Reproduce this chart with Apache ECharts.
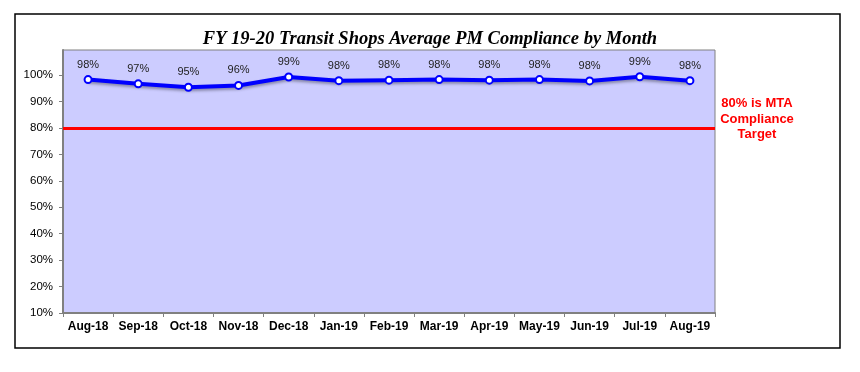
<!DOCTYPE html>
<html>
<head>
<meta charset="utf-8">
<script src="https://cdn.jsdelivr.net/npm/echarts@6/dist/echarts.min.js"></script>
<style>html,body{margin:0;padding:0;background:#fff;}#c{width:860px;height:372px;}</style>
</head>
<body>
<div id="c"></div>
<script>
const months = ['Aug-18','Sep-18','Oct-18','Nov-18','Dec-18','Jan-19','Feb-19','Mar-19','Apr-19','May-19','Jun-19','Jul-19','Aug-19'];
const compliance = [98.3, 96.7, 95.4, 96.1, 99.3, 97.9, 98.1, 98.3, 98.1, 98.3, 97.8, 99.4, 97.9];
const dataLabels = ['98%','97%','95%','96%','99%','98%','98%','98%','98%','98%','98%','99%','98%'];
const yTicks = [10, 20, 30, 40, 50, 60, 70, 80, 90, 100];
const targetValue = 80;
const targetNote = '80% is MTA\nCompliance\nTarget';
const chartTitle = 'FY 19-20 Transit Shops Average PM Compliance by Month';

const chart = echarts.init(document.getElementById('c'), null, {renderer:'canvas'});
chart.setOption({
  animation: false,
  backgroundColor: '#ffffff',
  title: {
    text: chartTitle,
    left: 'center',
    top: 25,
    textStyle: {fontFamily: 'Liberation Serif', fontStyle: 'italic', fontWeight: 'bold', fontSize: 18.5, color: '#000'}
  },
  graphic: [
    {type: 'rect', shape: {x: 15, y: 14, width: 825, height: 334}, style: {fill: 'none', stroke: '#000', lineWidth: 1.5}, z: 100},
    {type: 'text', x: 757, y: 96, style: {text: targetNote, fill: '#ff0000', font: 'bold 13px "Liberation Sans", Arial', textAlign: 'center', lineHeight: 15.5}}
  ],
  grid: {left: 63, right: 145, top: 50, bottom: 59, show: true, backgroundColor: '#ccccff', borderColor: '#808080', borderWidth: 1},
  xAxis: {
    type: 'category',
    data: months,
    boundaryGap: true,
    axisLine: {lineStyle: {color: '#808080', width: 2}},
    axisTick: {show: true, interval: 0, length: 4, lineStyle: {color: '#808080'}},
    axisLabel: {interval: 0, fontFamily: 'Liberation Sans', fontWeight: 'bold', fontSize: 12, color: '#000', margin: 8}
  },
  yAxis: {
    type: 'value',
    min: 10, max: 109.5, interval: 10,
    splitLine: {show: false},
    axisLine: {show: true, lineStyle: {color: '#808080', width: 2}},
    axisTick: {show: true, length: 4, customValues: yTicks, lineStyle: {color: '#808080'}},
    axisLabel: {fontFamily: 'Liberation Sans', fontSize: 11.5, color: '#000', margin: 10, customValues: yTicks,
      formatter: v => Math.round(v) + '%'}
  },
  series: [{
    type: 'line',
    data: compliance,
    symbol: 'circle',
    symbolSize: 7,
    lineStyle: {color: '#0000ff', width: 4, shadowColor: 'rgba(0,0,0,0.35)', shadowBlur: 3, shadowOffsetY: 2},
    itemStyle: {color: '#ffffff', borderColor: '#0000ff', borderWidth: 2},
    label: {show: true, position: 'top', distance: 5, fontFamily: 'Liberation Sans', fontSize: 11, color: '#222',
      formatter: p => dataLabels[p.dataIndex]},
    markLine: {
      silent: true, symbol: 'none', label: {show: false},
      lineStyle: {color: '#ff0000', width: 3, type: 'solid'},
      data: [{yAxis: targetValue}]
    },
    z: 5
  }]
});
</script>
</body>
</html>
